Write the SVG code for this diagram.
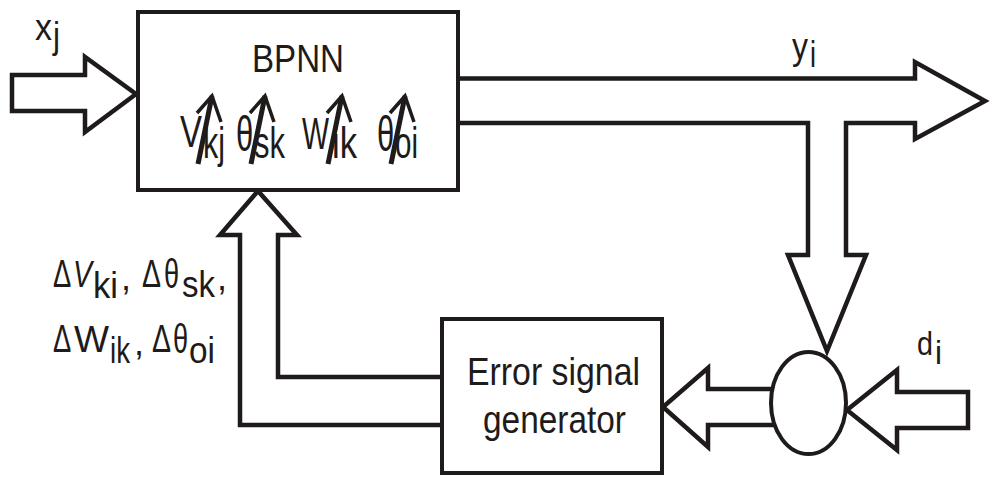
<svg xmlns="http://www.w3.org/2000/svg" xmlns:xlink="http://www.w3.org/1999/xlink" width="990" height="477" viewBox="0 0 990 477">
<style>
  .ln { fill: #ffffff; stroke: #1e1b1a; stroke-width: 4.5; stroke-linejoin: miter; stroke-miterlimit: 10; }
  .open { fill: #ffffff; stroke: #1e1b1a; stroke-width: 4.5; stroke-linejoin: miter; stroke-miterlimit: 10; }
  .box { fill: #ffffff; stroke: #1e1b1a; stroke-width: 4; }
  .t { font-family: "Liberation Sans", Arial, sans-serif; fill: #1e1b1a; }
  .wa { fill: none; stroke: #1e1b1a; stroke-linecap: butt; stroke-linejoin: miter; }
</style>
<defs>
  <g id="warrow">
    <path class="wa" d="M0,0 L-14,68" stroke-width="5"/>
    <path class="wa" d="M-15,17 L0,0 L9,26" stroke-width="3.5"/>
  </g>
</defs>
<rect width="990" height="477" fill="#ffffff"/>

<g id="connectors">
  <path class="ln" d="M12,75 L85,75 L85,57 L136,94 L85,132 L85,111 L12,111 Z"/>
  <path class="open" d="M458,78.5 L915,78.5 L915,62 L985,101 L915,139 L915,123 L846,123 L846,255 L866,255 L827,351 L788,255 L808,255 L808,123 L458,123"/>
  <path class="open" d="M442,377 L278,377 L278,235 L297,235 L258,191 L220,235 L240,235 L240,425 L442,425"/>
  <path class="open" d="M773,389 L708,389 L708,368 L663,407 L708,447 L708,425 L775,425"/>
  <path class="ln" d="M968,392 L897,392 L897,370 L847,410 L897,450 L897,428 L968,428 Z"/>
</g>

<g id="bpnn">
  <rect class="box" x="138" y="12" width="320" height="178" stroke-width="3.5"/>
  <text class="t" x="298" y="72" font-size="38" text-anchor="middle" textLength="92" lengthAdjust="spacingAndGlyphs">BPNN</text>
  <text class="t" x="180" y="147" font-size="44" textLength="22" lengthAdjust="spacingAndGlyphs">V</text>
  <text class="t" x="203" y="158" font-size="44" textLength="22" lengthAdjust="spacingAndGlyphs">kj</text>
  <text class="t" transform="translate(236,151) scale(0.62,1)" font-size="50">θ</text>
  <text class="t" x="254" y="158" font-size="44" textLength="31" lengthAdjust="spacingAndGlyphs">sk</text>
  <text class="t" x="302" y="149" font-size="44" textLength="27" lengthAdjust="spacingAndGlyphs">W</text>
  <text class="t" x="332" y="158" font-size="44" textLength="25" lengthAdjust="spacingAndGlyphs">ik</text>
  <text class="t" transform="translate(377,151) scale(0.62,1)" font-size="50">θ</text>
  <text class="t" x="395" y="158" font-size="44" textLength="23" lengthAdjust="spacingAndGlyphs">oi</text>
  <use xlink:href="#warrow" x="212" y="96"/>
  <use xlink:href="#warrow" x="265" y="96"/>
  <use xlink:href="#warrow" x="342" y="96"/>
  <use xlink:href="#warrow" x="405" y="96"/>
</g>

<g id="error-generator">
  <rect class="box" x="442" y="319" width="220" height="154" stroke-width="4.5"/>
  <text class="t" x="467" y="385" font-size="38" textLength="173" lengthAdjust="spacingAndGlyphs">Error signal</text>
  <text class="t" x="483" y="433" font-size="38" textLength="143" lengthAdjust="spacingAndGlyphs">generator</text>
</g>

<g id="summing-junction">
  <ellipse cx="808.5" cy="403" rx="37.5" ry="51" fill="#ffffff" stroke="#1e1b1a" stroke-width="4"/>
</g>

<g id="label-xj">
  <text class="t" x="35" y="40" font-size="36" textLength="17" lengthAdjust="spacingAndGlyphs">x</text>
  <text class="t" x="53" y="48" font-size="36" textLength="7" lengthAdjust="spacingAndGlyphs">j</text>
</g>

<g id="label-yi">
  <text class="t" x="792" y="59" font-size="37" textLength="16" lengthAdjust="spacingAndGlyphs">y</text>
  <text class="t" x="810" y="67" font-size="37" textLength="6" lengthAdjust="spacingAndGlyphs">i</text>
</g>

<g id="label-di">
  <text class="t" x="917" y="355" font-size="33" textLength="16" lengthAdjust="spacingAndGlyphs">d</text>
  <text class="t" x="935" y="364" font-size="33" textLength="7" lengthAdjust="spacingAndGlyphs">i</text>
</g>

<g id="label-deltas">
  <text class="t" transform="translate(53,287) scale(0.72,1)" font-size="38">Δ</text>
  <text class="t" x="73" y="287" font-size="36" font-style="italic" textLength="19" lengthAdjust="spacingAndGlyphs">V</text>
  <text class="t" x="93" y="298" font-size="36" textLength="25" lengthAdjust="spacingAndGlyphs">ki</text>
  <text class="t" x="121" y="290" font-size="36">,</text>
  <text class="t" transform="translate(142,287) scale(0.75,1)" font-size="38">Δ</text>
  <text class="t" transform="translate(164,288) scale(0.68,1)" font-size="40">θ</text>
  <text class="t" x="182" y="297" font-size="36" textLength="33" lengthAdjust="spacingAndGlyphs">sk</text>
  <text class="t" x="217" y="290" font-size="36">,</text>

  <text class="t" transform="translate(53,352) scale(0.72,1)" font-size="38">Δ</text>
  <text class="t" x="74" y="352" font-size="36" textLength="35" lengthAdjust="spacingAndGlyphs">W</text>
  <text class="t" x="110" y="363" font-size="36" textLength="20" lengthAdjust="spacingAndGlyphs">ik</text>
  <text class="t" x="134" y="355" font-size="36">,</text>
  <text class="t" transform="translate(152,352) scale(0.75,1)" font-size="38">Δ</text>
  <text class="t" transform="translate(173,353) scale(0.68,1)" font-size="40">θ</text>
  <text class="t" x="189" y="363" font-size="36" textLength="26" lengthAdjust="spacingAndGlyphs">oi</text>
</g>
</svg>
